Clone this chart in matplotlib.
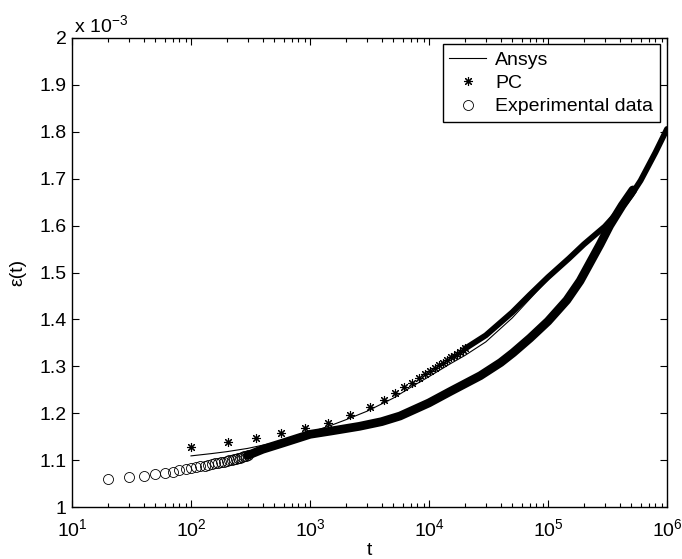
import matplotlib
matplotlib.use("Agg")
import matplotlib.pyplot as plt
from matplotlib.lines import Line2D
from matplotlib.ticker import FixedLocator, FuncFormatter, LogLocator, NullFormatter

# ==========================================================
# Data (strain in units of 1e-3)
# ==========================================================

# experimental data, single circles at the start
t_exp = [20, 30, 40, 50, 60, 70, 80, 90, 100, 110, 120, 130, 140, 150,
         160, 170, 180, 190, 200, 210, 220, 230, 240, 250, 260, 270,
         280, 290, 300]
e_exp = [1.060, 1.063, 1.067, 1.070, 1.073, 1.075, 1.078, 1.080, 1.083,
         1.085, 1.087, 1.088, 1.090, 1.091, 1.093, 1.094, 1.096, 1.097,
         1.099, 1.100, 1.101, 1.102, 1.103, 1.104, 1.105, 1.106, 1.108,
         1.109, 1.110]

# experimental data, the dense part (circles overlap into a band)
t_exp_band = [300, 400, 600, 1000, 1500, 2600, 4000, 5700, 10000, 15000,
              27000, 40000, 51000, 70600, 100000, 144000, 186000, 274000,
              330000, 420000, 517000]
e_exp_band = [1.110, 1.123, 1.137, 1.155, 1.162, 1.172, 1.182, 1.194,
              1.222, 1.246, 1.280, 1.308, 1.329, 1.360, 1.396, 1.441,
              1.482, 1.560, 1.600, 1.643, 1.676]

# PC, single stars
t_pc = [100, 205, 350, 575, 910, 1420, 2170, 3170, 4170, 5170, 6170,
        7170, 8170, 9170, 10170, 11170, 12170, 13170, 14170, 15170,
        16170, 17170, 18170, 19170, 20170]
e_pc = [1.127, 1.138, 1.148, 1.158, 1.168, 1.180, 1.197, 1.214, 1.229,
        1.243, 1.255, 1.265, 1.274, 1.283, 1.290, 1.296, 1.302, 1.308,
        1.314, 1.319, 1.323, 1.327, 1.331, 1.335, 1.338]

# PC, the dense part
t_pc_band = [20170, 30000, 50000, 70000, 100000, 150000, 200000, 300000,
             400000, 500000, 600000, 800000, 1000000]
e_pc_band = [1.338, 1.366, 1.415, 1.452, 1.490, 1.530, 1.560, 1.598,
             1.633, 1.665, 1.696, 1.756, 1.806]

# Ansys
t_ansys = [100, 150, 200, 300, 500, 700, 1000, 1500, 2000, 3000, 5000,
           7000, 10000, 15000, 20000, 30000, 50000, 70000, 100000,
           150000, 200000, 300000, 400000, 500000, 600000, 800000, 1000000]
e_ansys = [1.109, 1.114, 1.118, 1.125, 1.137, 1.147, 1.159, 1.174, 1.186,
           1.204, 1.232, 1.255, 1.278, 1.305, 1.323, 1.352, 1.403, 1.443,
           1.485, 1.528, 1.558, 1.597, 1.632, 1.664, 1.695, 1.755, 1.805]

# ==========================================================
# Figure
# ==========================================================

plt.rcParams["font.family"] = ["Liberation Sans", "DejaVu Sans"]
plt.rcParams["mathtext.fontset"] = "custom"
plt.rcParams["mathtext.rm"] = "Liberation Sans"
plt.rcParams["mathtext.it"] = "Liberation Sans:italic"
plt.rcParams["font.size"] = 14

fig = plt.figure(figsize=(6.82, 5.59), dpi=100)
ax = fig.add_axes([72 / 682, 52 / 559, 595 / 682, 469 / 559])

# experimental
ax.plot(t_exp_band, e_exp_band, color="black", linewidth=6.3,
        solid_capstyle="round", solid_joinstyle="round")
ax.plot(t_exp, e_exp, linestyle="none", marker="o", markersize=7.2,
        markerfacecolor="none", markeredgecolor="black", markeredgewidth=0.6)

# PC
ax.plot(t_pc_band, e_pc_band, color="black", linewidth=4.2,
        solid_capstyle="round", solid_joinstyle="round")
ax.plot(t_pc, e_pc, linestyle="none", marker=(8, 2, 0), markersize=6.5,
        color="black", markeredgewidth=0.8)

# Ansys
ax.plot(t_ansys, e_ansys, color="black", linewidth=0.8)

ax.set_xscale("log")
ax.set_xlim(10, 1e6)
ax.set_ylim(1.0, 2.0)

ax.xaxis.set_major_locator(LogLocator(base=10, numticks=10))
ax.xaxis.set_minor_locator(LogLocator(base=10, subs=range(2, 10), numticks=20))
ax.xaxis.set_minor_formatter(NullFormatter())
ax.yaxis.set_major_locator(FixedLocator([1.0 + 0.1 * i for i in range(11)]))
ax.yaxis.set_major_formatter(FuncFormatter(lambda v, p: "%g" % round(v, 1)))

ax.tick_params(which="both", direction="in", top=True, right=True,
               width=0.8, colors="black")
ax.tick_params(which="major", length=5)
ax.tick_params(which="minor", length=3)
ax.tick_params(axis="x", which="major", pad=8)
ax.tick_params(axis="y", which="major", pad=4)
for s in ax.spines.values():
    s.set_linewidth(1.0)

ax.text(0.003, 1.012, r"x 10$^{-3}$", transform=ax.transAxes,
        ha="left", va="baseline")

ax.set_xlabel("t")
ax.xaxis.set_label_coords(0.5, -0.074)
ax.set_ylabel("ε(t)")
ax.yaxis.set_label_coords(-0.077, 0.5)

handles = [
    Line2D([], [], color="black", linewidth=0.8),
    Line2D([], [], linestyle="none", marker=(8, 2, 0), markersize=6.5,
           color="black", markeredgewidth=0.8),
    Line2D([], [], linestyle="none", marker="o", markersize=7.2,
           markerfacecolor="none", markeredgecolor="black",
           markeredgewidth=0.6),
]
leg = ax.legend(handles, ["Ansys", "PC", "Experimental data"],
                loc="upper right", bbox_to_anchor=(0.988, 0.987),
                borderaxespad=0, fancybox=False, framealpha=1,
                edgecolor="black", handlelength=1.9, handletextpad=0.45,
                labelspacing=0.3, borderpad=0.35)
leg.get_frame().set_linewidth(1.0)

plt.savefig("out.png", dpi=100)
plt.close()
